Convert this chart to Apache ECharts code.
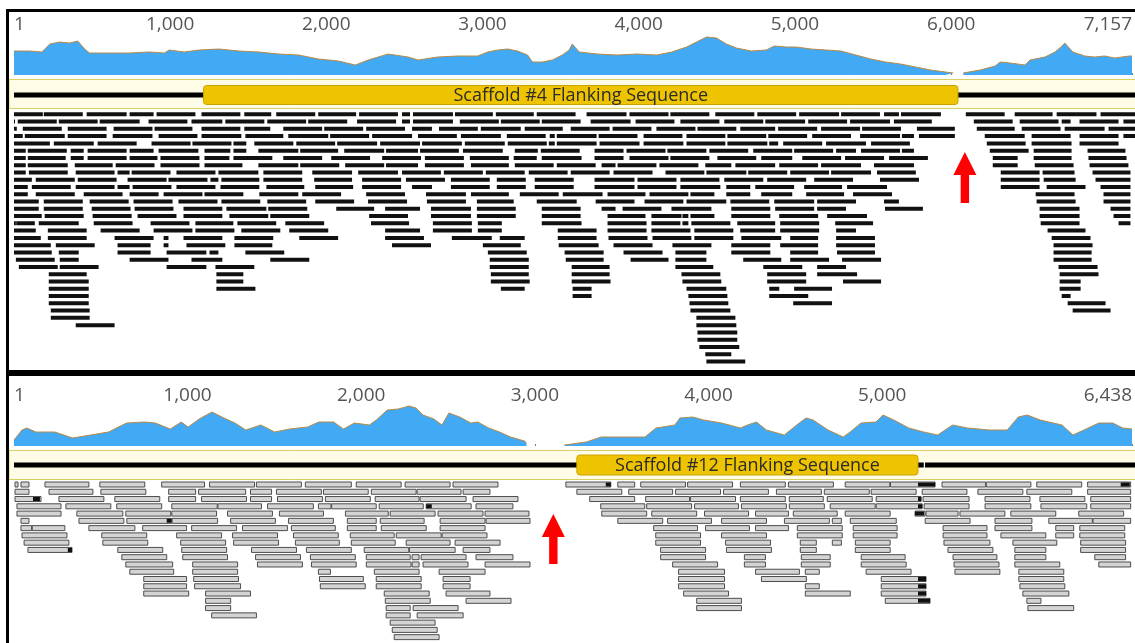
<!DOCTYPE html>
<html><head><meta charset="utf-8">
<script src="https://cdn.jsdelivr.net/npm/echarts@6/dist/echarts.min.js"></script>
<style>html,body{margin:0;padding:0;background:#fff}#c{width:1135px;height:643px}</style>
</head><body><div id="c"></div>
<script>
// ---------------- DATA ----------------
const topLength = 7157;
const bottomLength = 6438;
const topTicks = [1, 1000, 2000, 3000, 4000, 5000, 6000, 7157];
const bottomTicks = [1, 1000, 2000, 3000, 4000, 5000, 6438];
const topLabel = 'Scaffold #4 Flanking Sequence';
const bottomLabel = 'Scaffold #12 Flanking Sequence';

// coverage depth [position, depth]; null = no coverage
const coverageTop = [[1,24],[103,24],[179,23],[230,31],[294,33],[358,32],[409,34],[453,26],[485,22],[612,22],[740,22],[867,23],[963,22],[995,25],[1090,23],[1186,25],[1313,26],[1440,24],[1568,23],[1695,21],[1823,20],[1950,16],[2077,14],[2186,10],[2268,15],[2396,21],[2523,18],[2587,15],[2714,18],[2842,19],[2969,19],[3033,23],[3097,25],[3160,26],[3224,24],[3288,20],[3320,13],[3383,13],[3447,15],[3510,20],[3555,25],[3574,31],[3619,23],[3734,21],[3861,20],[3988,21],[4115,20],[4211,23],[4306,28],[4370,33],[4434,38],[4498,37],[4561,31],[4625,27],[4721,24],[4816,25],[4867,29],[4943,28],[5007,28],[5103,26],[5198,25],[5294,24],[5389,20],[5485,16],[5580,13],[5676,11],[5771,8],[5867,5],[5962,3],[6013,2],[6045,null],[6077,2],[6185,5],[6281,9],[6313,13],[6377,12],[6472,10],[6504,15],[6600,18],[6664,23],[6702,28],[6727,32],[6778,23],[6854,19],[6918,18],[6982,19],[7045,17],[7141,19],[7157,19]];
const coverageBottom = [[1,6],[47,16],[75,18],[127,14],[236,14],[339,8],[442,11],[545,14],[649,23],[752,24],[815,23],[901,17],[964,24],[1004,19],[1067,27],[1141,34],[1210,28],[1273,23],[1336,16],[1422,21],[1502,14],[1588,17],[1692,19],[1755,24],[1841,24],[1898,17],[1961,23],[2047,21],[2087,26],[2150,36],[2213,37],[2276,40],[2316,38],[2356,31],[2419,27],[2465,21],[2505,33],[2568,29],[2631,23],[2671,24],[2734,18],[2797,14],[2860,9],[2940,5],[2952,3],[3060,null],[3170,1],[3296,4],[3382,9],[3508,9],[3634,9],[3697,18],[3806,21],[3835,28],[3909,29],[3972,26],[4075,23],[4184,18],[4224,21],[4276,24],[4333,16],[4436,11],[4522,23],[4562,28],[4602,26],[4688,16],[4775,9],[4815,14],[4878,23],[4964,24],[5004,31],[5067,26],[5153,18],[5239,14],[5319,11],[5405,21],[5491,18],[5617,16],[5720,16],[5783,29],[5835,31],[5909,26],[6035,21],[6098,11],[6161,16],[6247,23],[6327,23],[6385,18],[6438,17]];

// scaffold backbone segments and annotation [start, end]
const backboneTop = [[1, 7157]];
const annotationTop = [1211, 6027];
const backboneBottom = [[1, 5225], [5238, 6438]];
const annotationBottom = [3233, 5192];

// reads per row: [start, end]
const readsTop = [
[[1,185],[191,440],[465,720],[739,892],[911,1159],[1198,1446],[1471,1643],[1675,1924],[1943,2185],[2204,2452],[2478,2529],[2548,2803],[2816,3058],[3077,3319],[3338,3586],[3656,3911],[3930,4179],[4191,4440],[4478,4727],[4746,4994],[5013,5268],[5281,5529],[5555,5650],[5663,5918],[6077,6325],[6389,6631],[6657,6911],[6937,7157]],
[[1,6],[25,274],[287,535],[548,803],[860,1108],[1134,1331],[1350,1599],[1618,1866],[1879,2128],[2191,2440],[2478,2529],[2548,2803],[2847,3096],[3109,3357],[3370,3618],[3682,3937],[3969,4217],[4255,4504],[4535,4784],[4797,5051],[5071,5319],[5338,5593],[5618,5860],[6128,6376],[6421,6669],[6689,6746],[6803,7052],[7083,7157]],
[[1,19],[57,306],[344,592],[637,885],[898,1140],[1198,1446],[1471,1637],[1720,1968],[1981,2230],[2249,2497],[2542,2669],[2714,2962],[2981,3236],[3261,3504],[3555,3803],[3822,4070],[4102,4351],[4364,4612],[4637,4860],[4879,5128],[5153,5402],[5415,5663],[5765,6007],[6147,6389],[6434,6682],[6708,6963],[6988,7157]],
[[1,57],[70,325],[344,592],[631,885],[924,1172],[1198,1452],[1478,1720],[1752,2007],[2019,2268],[2287,2542],[2580,2828],[2854,3109],[3147,3395],[3421,3453],[3466,3720],[3733,3981],[4020,4268],[4294,4542],[4555,4803],[4816,5064],[5096,5344],[5402,5657],[5669,5746],[5778,6007],[6198,6453],[6497,6746],[6803,7052],[7083,7157]],
[[1,230],[255,510],[535,784],[879,1128],[1140,1389],[1402,1484],[1535,1784],[1803,2051],[2064,2319],[2338,2593],[2606,2860],[2879,3134],[3153,3402],[3415,3453],[3466,3720],[3739,3994],[4020,4274],[4294,4542],[4555,4810],[4822,4879],[4911,5160],[5185,5440],[5472,5720],[6211,6459],[6497,6752],[6803,7052]],
[[1,76],[89,338],[363,446],[471,720],[739,892],[924,1178],[1217,1382],[1402,1484],[1561,1816],[1828,2070],[2109,2364],[2376,2580],[2593,2841],[2867,3121],[3198,3345],[3364,3612],[3707,3892],[3911,4160],[4172,4421],[4440,4688],[4720,4969],[4981,5230],[5249,5376],[5408,5657],[5669,5746],[6230,6478],[6510,6752],[6854,7096]],
[[1,76],[89,331],[363,446],[471,720],[739,917],[936,1185],[1217,1376],[1402,1650],[1720,1968],[2026,2274],[2351,2599],[2624,2873],[2911,3160],[3191,3338],[3370,3624],[3707,3892],[3930,4179],[4191,4440],[4491,4739],[4771,4969],[5033,5281],[5306,5555],[5587,5835],[6249,6408],[6510,6752],[6860,7103]],
[[1,76],[89,344],[389,631],[650,898],[936,1185],[1217,1459],[1561,1816],[1828,2077],[2115,2364],[2376,2580],[2624,2873],[2918,3160],[3198,3446],[3466,3714],[3752,3841],[3854,4102],[4121,4370],[4414,4580],[4606,4860],[4886,5134],[5153,5408],[5491,5746],[6249,6408],[6517,6765],[6867,7115]],
[[1,76],[96,344],[395,643],[662,739],[752,1000],[1038,1287],[1306,1561],[1593,1841],[1905,2159],[2198,2452],[2478,2726],[2745,2994],[3013,3261],[3287,3535],[3555,3803],[3828,4077],[4160,4408],[4421,4676],[4688,4937],[4956,5204],[5217,5472],[5510,5758],[6300,6548],[6567,6771],[6886,7128]],
[[1,115],[140,389],[408,656],[726,975],[987,1236],[1255,1306],[1325,1567],[1593,1841],[1917,2159],[2223,2472],[2503,2752],[2790,3038],[3083,3268],[3325,3574],[3707,3962],[3981,4230],[4255,4504],[4535,4784],[4809,5058],[5109,5357],[5529,5778],[6300,6548],[6574,6778],[6905,7128]],
[[1,89],[115,363],[395,643],[662,739],[758,1006],[1038,1287],[1319,1567],[1612,1854],[1924,2166],[2223,2472],[2542,2669],[2790,3038],[3083,3268],[3325,3574],[3707,3962],[3981,4230],[4255,4510],[4548,4701],[4733,4981],[5045,5287],[5319,5574],[6300,6548],[6593,6841],[6937,7128]],
[[1,89],[140,389],[446,694],[739,924],[956,1204],[1217,1465],[1567,1816],[1841,2089],[2249,2497],[2631,2886],[2918,3160],[3230,3478],[3504,3758],[3790,4032],[4058,4306],[4319,4472],[4548,4701],[4771,4969],[5058,5300],[5357,5606],[6523,6771],[6956,7128]],
[[1,159],[191,440],[484,733],[764,1013],[1051,1300],[1325,1573],[1618,1866],[1924,2172],[2261,2510],[2637,2886],[2956,3191],[3338,3593],[3714,3962],[4026,4274],[4294,4548],[4574,4822],[4854,5109],[5128,5376],[5555,5650],[6529,6778],[6956,7128]],
[[1,159],[191,440],[497,745],[771,1019],[1083,1331],[1357,1612],[1624,1873],[2058,2300],[2370,2593],[2663,2918],[2956,3204],[3370,3618],[3752,3841],[3886,4134],[4198,4453],[4580,4829],[4860,5109],[5128,5312],[5561,5803],[6548,6803],[7001,7128]],
[[1,178],[197,446],[503,752],[790,1038],[1083,1331],[1376,1624],[1637,1886],[2268,2516],[2663,2918],[2956,3204],[3370,3618],[3790,4032],[4070,4262],[4268,4306],[4319,4472],[4580,4829],[4886,5134],[5192,5446],[6548,6803],[7020,7128]],
[[1,13],[15,134],[159,414],[510,758],[873,1121],[1159,1401],[1427,1675],[1733,1981],[2280,2523],[2675,2924],[2962,3115],[3370,3624],[3790,4039],[4070,4255],[4268,4306],[4325,4574],[4618,4860],[4892,5141],[5243,5485],[6555,6803],[7052,7128]],
[[1,140],[217,465],[554,803],[892,1140],[1159,1408],[1452,1701],[1758,2007],[2370,2593],[2675,2924],[2962,3115],[3472,3720],[3790,4039],[4070,4319],[4344,4593],[4637,4860],[4892,5141],[5249,5376],[6599,6841]],
[[1,172],[217,465],[643,892],[956,987],[1083,1331],[1408,1656],[1822,2070],[2370,2618],[2796,3051],[3102,3261],[3472,3720],[3796,4045],[4077,4325],[4344,4593],[4644,4899],[4956,5134],[5249,5497],[6625,6873]],
[[1,236],[268,516],[662,873],[956,987],[1102,1350],[1408,1650],[2414,2663],[2994,3236],[3478,3733],[3828,4077],[4204,4453],[4580,4829],[4892,5134],[5249,5497],[6637,6886]],
[[1,242],[287,414],[662,873],[975,1229],[1249,1306],[1478,1726],[3026,3274],[3516,3765],[3892,4141],[4223,4421],[4580,4829],[4956,5134],[5255,5497],[6637,6880]],
[[13,261],[293,414],[739,987],[1134,1331],[1637,1886],[3038,3287],[3523,3765],[3937,4179],[4223,4421],[4656,4899],[4956,5204],[5287,5536],[6637,6880]],
[[32,280],[293,541],[975,1229],[1287,1535],[3038,3287],[3561,3803],[4223,4465],[4784,5033],[5128,5312],[6669,6918]],
[[223,465],[1293,1465],[3045,3287],[3561,3803],[4262,4510],[4809,5058],[5128,5383],[6676,6924]],
[[223,478],[1293,1465],[3045,3293],[3561,3809],[4268,4516],[4809,5058],[5293,5536],[6676,6810]],
[[223,478],[1293,1542],[3109,3261],[3567,3688],[4294,4548],[4822,4886],[4981,5223],[6676,6810]],
[[223,478],[3567,3688],[4306,4555],[4822,5071],[6689,6746]],
[[223,478],[4313,4561],[4975,5223],[6727,6969]],
[[236,484],[4319,4574],[6759,7001]],
[[236,484],[4357,4606]],
[[395,643],[4357,4612]],
[[4364,4618]],
[[4364,4618]],
[[4376,4631]],
[[4414,4580]],
[[4421,4669]]
];

const readsBottom = [
[[7,24],[41,87],[179,431],[494,752],[849,1095],[1124,1382],[1393,1651],[1674,1938],[1966,2224],[2247,2505],[2522,2780],[3170,3428],[3468,3565],[3600,3857],[3869,4127],[4172,4430],[4448,4706],[4774,5030],[5034,5290],[5330,5580],[5584,5840],[5874,6132],[6166,6413]],
[[7,87],[202,454],[500,758],[889,1044],[1061,1331],[1359,1480],[1508,1766],[1778,2035],[2053,2310],[2316,2568],[2580,2734],[3233,3491],[3531,3783],[3800,4058],[4075,4333],[4379,4637],[4654,4912],[4923,5181],[5216,5473],[5536,5794],[5817,6075],[6166,6413]],
[[7,156],[259,517],[580,838],[889,1044],[1078,1336],[1359,1480],[1514,1772],[1789,2047],[2075,2327],[2333,2597],[2637,2895],[3307,3565],[3628,3880],[3886,4144],[4172,4430],[4453,4648],[4671,4929],[4952,5210],[5221,5485],[5577,5835],[5892,6150],[6184,6413]],
[[18,271],[299,557],[591,849],[907,1168],[1172,1422],[1457,1720],[1749,1821],[1825,2081],[2098,2351],[2368,2626],[2654,2866],[3370,3623],[3634,3892],[3909,4161],[4178,4436],[4453,4654],[4688,4946],[4952,5216],[5227,5485],[5577,5840],[5898,6161],[6184,6413]],
[[18,271],[362,626],[643,901],[907,1164],[1227,1485],[1525,1778],[1904,2150],[2161,2419],[2436,2694],[2706,2958],[3376,3634],[3663,3921],[3966,4219],[4259,4448],[4476,4728],[4774,5032],[5175,5233],[5238,5422],[5433,5691],[5725,5983],[6115,6373]],
[[41,87],[374,632],[649,905],[909,1170],[1245,1502],[1577,1835],[1915,2081],[2104,2356],[2448,2706],[2712,2964],[3468,3726],[3754,4006],[4064,4322],[4425,4683],[4700,4752],[4803,5067],[5233,5491],[5634,5846],[5943,6193],[6197,6413]],
[[41,102],[106,293],[431,695],[740,992],[1021,1279],[1313,1571],[1594,1846],[1915,2081],[2110,2368],[2448,2706],[3674,3926],[3972,4224],[4259,4448],[4499,4757],[4820,5072],[5336,5588],[5634,5846],[5983,6086],[6121,6379]],
[[47,305],[505,763],[935,1193],[1256,1514],[1606,1863],[1932,2184],[2196,2454],[2459,2717],[3686,3943],[4064,4322],[4499,4757],[4820,5072],[5336,5588],[5668,5926],[5983,6086],[6121,6379]],
[[59,316],[511,769],[958,1216],[1262,1520],[1617,1869],[1938,2190],[2253,2505],[2534,2792],[3686,3943],[4087,4345],[4516,4608],[4700,4752],[4832,5032],[5341,5605],[5737,5989],[6126,6384]],
[[81,334],[597,855],[964,1222],[1365,1623],[1680,1938],[2012,2268],[2272,2534],[2580,2734],[3714,3972],[4092,4350],[4516,4608],[4832,5032],[5364,5622],[5748,5926],[6126,6384]],
[[620,878],[970,1227],[1388,1646],[1703,1961],[2024,2276],[2287,2327],[2339,2597],[2654,2866],[3714,3972],[4195,4316],[4522,4688],[4866,5118],[5393,5645],[5748,5926],[6207,6384]],
[[643,912],[1027,1285],[1399,1657],[1709,1966],[2024,2281],[2287,2327],[2350,2608],[2706,2964],[3783,4041],[4195,4316],[4522,4688],[4866,5124],[5399,5657],[5748,6006],[6230,6413]],
[[666,918],[1027,1285],[1749,1818],[2070,2327],[2442,2706],[3817,4081],[4259,4511],[4545,4625],[4894,5152],[5404,5662],[5771,6029]],
[[746,992],[1033,1290],[1755,2007],[2081,2339],[2465,2620],[3817,4081],[4293,4551],[4981,5238],[5771,6029]],
[[746,992],[1038,1302],[1760,2018],[2081,2339],[2465,2620],[3817,4081],[4545,4625],[4981,5238],[5777,6035]],
[[746,1004],[1101,1359],[2127,2385],[2482,2734],[3846,4104],[4545,4803],[4981,5238],[5794,6058]],
[[1101,1245],[2133,2391],[2597,2855],[3921,4178],[5004,5261],[5817,5898]],
[[1101,1245],[2138,2276],[2293,2551],[3921,4178],[5823,6086]],
[[1136,1393],[2138,2276],[2316,2580]],
[[2161,2419]],
[[2173,2431]],
[[2184,2442]]
];

// mismatch blocks in lower reads: [row, start, end]
const mismatchesBottom = [[0,3399,3428],[0,5192,5290],[0,6356,6408],[2,110,150],[2,5192,5210],[3,5192,5216],[4,5175,5227],[5,878,905],[9,310,334],[3,2368,2400],[13,5192,5238],[14,5192,5238],[15,5192,5238],[16,5192,5261]];

// red arrows marking the gaps: [position, tipRow, tailRow]
const arrowTop = [[6071, 5.68, 12.70]];
const arrowBottom = [[3098, 4.55, 11.43]];

// ---------------- CHART ----------------
const chart = echarts.init(document.getElementById('c'), null, {renderer: 'canvas'});
const L = 14, W = 1123, PITCH = 7.27;
const fmt = v => String(Math.round(v)).replace(/\B(?=(\d{3})+(?!\d))/g, ',');
const covData = arr => arr.map(d => d[1] === null ? [d[0], '-'] : d);
const flatten = rows => { const out = []; rows.forEach((row, r) => row.forEach(s => out.push([r, s[0], s[1]]))); return out; };

function readRenderer(h, style) {
  return function (params, api) {
    const r = api.value(0);
    const a = api.coord([api.value(1), r + 0.5]);
    const b = api.coord([api.value(2), r + 0.5]);
    return {type: 'rect', shape: {x: a[0], y: a[1] - h / 2, width: Math.max(b[0] - a[0], 1), height: h}, style: style};
  };
}
function scaffoldRenderer(label, boxH) {
  return function (params, api) {
    const kind = api.value(2);
    const a = api.coord([api.value(0), 0.5]);
    const b = api.coord([api.value(1), 0.5]);
    if (kind === 0) {
      return {type: 'rect', shape: {x: a[0] - 1, y: a[1] - 2.5, width: b[0] - a[0] + 1, height: 5}, style: {fill: '#000'}};
    }
    return {type: 'group', children: [
      {type: 'rect', shape: {x: a[0], y: a[1] - boxH / 2, width: b[0] - a[0], height: boxH, r: 3}, style: {fill: '#eec400', stroke: '#c9a400', lineWidth: 1}},
      {type: 'text', style: {text: label, x: (a[0] + b[0]) / 2, y: a[1] + 0.5, align: 'center', verticalAlign: 'middle', font: '18px "Open Sans"', fill: '#2b2b2b'}}
    ]};
  };
}
function arrowRenderer(params, api) {
  const tip = api.coord([api.value(0), api.value(1)]);
  const tail = api.coord([api.value(0), api.value(2)]);
  const x = tip[0], y = tip[1], hh = 23, hw = 11.5, sw = 4.2;
  return {type: 'polygon', shape: {points: [[x, y], [x + hw, y + hh], [x + sw, y + hh], [x + sw, tail[1]], [x - sw, tail[1]], [x - sw, y + hh], [x - hw, y + hh]]}, style: {fill: '#ff0000'}};
}
function labelAxis(grid, max, ticks) {
  return {
    type: 'value', gridIndex: grid, min: 1, max: max, position: 'top',
    axisLine: {show: false}, splitLine: {show: false},
    axisTick: {show: true, customValues: ticks, length: 2, lineStyle: {color: '#777', width: 1}},
    axisLabel: {show: true, customValues: ticks, formatter: fmt, fontFamily: 'Open Sans', fontSize: 19, color: '#555', margin: 0,
      alignMinLabel: 'left', alignMaxLabel: 'right', showMinLabel: true, showMaxLabel: true}
  };
}
function hiddenX(grid, max) { return {type: 'value', gridIndex: grid, min: 1, max: max, show: false}; }

const D = 371; // vertical offset of second panel
const grids = [
  {left: L, top: 34, width: W, height: 41},
  {left: L, top: 81, width: W, height: 28},
  {left: L, top: 114.3 - PITCH / 2, width: W, height: PITCH * readsTop.length},
  {left: L, top: 34 + D, width: W, height: 41},
  {left: L, top: 451, width: W, height: 28},
  {left: L, top: 484.5 - PITCH / 2, width: W, height: PITCH * readsBottom.length}
];

const scafTopData = backboneTop.map(s => [s[0], s[1], 0]).concat([[annotationTop[0], annotationTop[1], 1]]);
const scafBotData = backboneBottom.map(s => [s[0], s[1], 0]).concat([[annotationBottom[0], annotationBottom[1], 1]]);

const option = {
  animation: false,
  backgroundColor: '#fff',
  grid: grids,
  xAxis: [labelAxis(0, topLength, topTicks), hiddenX(1, topLength), hiddenX(2, topLength),
          labelAxis(3, bottomLength, bottomTicks), hiddenX(4, bottomLength), hiddenX(5, bottomLength)],
  yAxis: [
    {type: 'value', gridIndex: 0, min: 0, max: 41, show: false},
    {type: 'value', gridIndex: 1, min: 0, max: 1, show: false},
    {type: 'value', gridIndex: 2, min: 0, max: readsTop.length, inverse: true, show: false},
    {type: 'value', gridIndex: 3, min: 0, max: 41, show: false},
    {type: 'value', gridIndex: 4, min: 0, max: 1, show: false},
    {type: 'value', gridIndex: 5, min: 0, max: readsBottom.length, inverse: true, show: false}
  ],
  graphic: [
    {type: 'rect', z: 0, shape: {x: 9, y: 79.5, width: 1130, height: 29}, style: {fill: '#fefce6', stroke: '#d8cf62', lineWidth: 1}},
    {type: 'rect', z: 0, shape: {x: 9, y: 450.5, width: 1130, height: 29}, style: {fill: '#fefce6', stroke: '#d8cf62', lineWidth: 1}},
    {type: 'rect', z: 100, shape: {x: 6, y: 9, width: 1135, height: 3}, style: {fill: '#000'}},
    {type: 'rect', z: 100, shape: {x: 6, y: 9, width: 3, height: 640}, style: {fill: '#000'}},
    {type: 'rect', z: 100, shape: {x: 6, y: 370, width: 1135, height: 6}, style: {fill: '#000'}}
  ],
  series: [
    {type: 'line', xAxisIndex: 0, yAxisIndex: 0, data: covData(coverageTop), symbol: 'none', connectNulls: false,
      lineStyle: {color: '#b98a45', width: 1}, areaStyle: {color: '#42a9f5', opacity: 1}, z: 3},
    {type: 'custom', xAxisIndex: 1, yAxisIndex: 1, data: scafTopData, renderItem: scaffoldRenderer(topLabel, 19), clip: true, z: 4},
    {type: 'custom', xAxisIndex: 2, yAxisIndex: 2, data: flatten(readsTop), renderItem: readRenderer(4, {fill: '#111'}), clip: true, z: 4},
    {type: 'custom', xAxisIndex: 2, yAxisIndex: 2, data: arrowTop, renderItem: arrowRenderer, clip: false, z: 5},
    {type: 'line', xAxisIndex: 3, yAxisIndex: 3, data: covData(coverageBottom), symbol: 'none', connectNulls: false,
      lineStyle: {color: '#b98a45', width: 1}, areaStyle: {color: '#42a9f5', opacity: 1}, z: 3},
    {type: 'custom', xAxisIndex: 4, yAxisIndex: 4, data: scafBotData, renderItem: scaffoldRenderer(bottomLabel, 20), clip: true, z: 4},
    {type: 'custom', xAxisIndex: 5, yAxisIndex: 5, data: flatten(readsBottom), renderItem: readRenderer(5, {fill: '#d4d4d4', stroke: '#4d4d4d', lineWidth: 1}), clip: true, z: 4},
    {type: 'custom', xAxisIndex: 5, yAxisIndex: 5, data: mismatchesBottom, renderItem: readRenderer(4, {fill: '#111'}), clip: true, z: 5},
    {type: 'custom', xAxisIndex: 5, yAxisIndex: 5, data: arrowBottom, renderItem: arrowRenderer, clip: false, z: 5}
  ]
};
chart.setOption(option);
</script>
</body></html>
